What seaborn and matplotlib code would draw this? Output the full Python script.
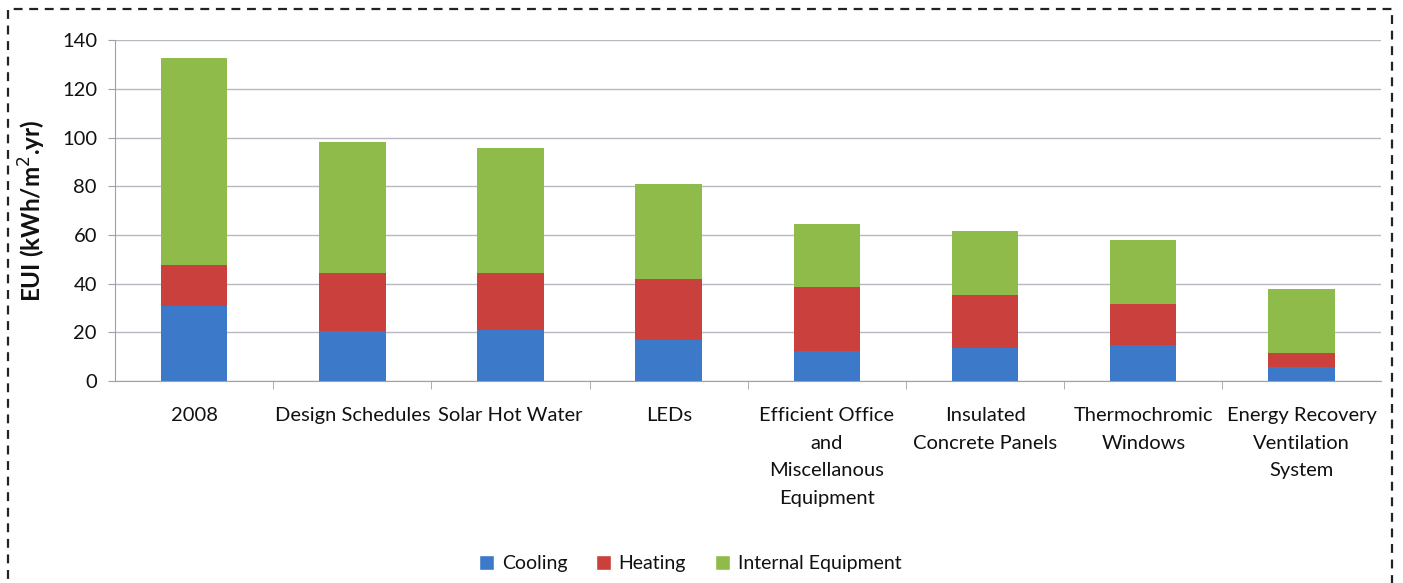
import matplotlib
matplotlib.use("Agg")
import matplotlib.pyplot as plt
import seaborn as sns
import numpy as np
import pandas as pd
from matplotlib.patches import Patch, Rectangle

categories = ["2008", "Design Schedules", "Solar Hot Water", "LEDs",
              "Efficient Office\nand\nMiscellanous\nEquipment",
              "Insulated\nConcrete Panels", "Thermochromic\nWindows",
              "Energy Recovery\nVentilation\nSystem"]
cooling = [31.0, 20.7, 21.0, 16.8, 12.4, 13.5, 14.6, 5.9]
heating = [16.5, 23.5, 23.2, 25.2, 26.1, 21.9, 17.0, 5.5]
equipment = [85.0, 54.0, 51.7, 38.9, 26.2, 26.3, 26.3, 26.2]

series = ["Cooling", "Heating", "Internal Equipment"]
colors = ["#3c79c8", "#c9403c", "#8fbb4b"]

df = pd.DataFrame({"cat": categories, "Cooling": cooling,
                   "Heating": heating, "Internal Equipment": equipment})
df["c1"] = df["Cooling"]
df["c2"] = df["c1"] + df["Heating"]
df["c3"] = df["c2"] + df["Internal Equipment"]

sns.set_style("white")
plt.rcParams["font.family"] = ["Lato", "DejaVu Sans"]

fig = plt.figure(figsize=(14.03, 5.83), dpi=100)
ax = fig.add_axes([0.082, 0.3465, 0.902, 0.5845])

# stack by drawing cumulative totals, largest first
for col, c in zip(["c3", "c2", "c1"], colors[::-1]):
    sns.barplot(data=df, x="cat", y=col, color=c, width=0.42, ax=ax,
                order=categories, saturation=1, linewidth=0)

ax.set_xlim(-0.5, len(categories) - 0.5)
ax.set_ylim(0, 140)
ax.set_yticks(np.arange(0, 141, 20))
ax.yaxis.grid(True, color="#b8b8c0", linewidth=1)
ax.set_axisbelow(True)
for s in ["top", "right"]:
    ax.spines[s].set_visible(False)
ax.spines["left"].set_color("#a0a0a8")
ax.spines["bottom"].set_color("#a0a0a8")

ax.tick_params(axis="y", labelsize=14.5, length=5, color="#a0a0a8", left=True,
               labelcolor="#111111", pad=8)
ax.set_xticks(np.arange(len(categories)))
ax.set_xticklabels(categories, linespacing=1.75)
ax.tick_params(axis="x", which="major", length=0, labelsize=14.5, pad=19,
               labelcolor="#111111")
ax.set_xticks(np.arange(len(categories) - 1) + 0.5, minor=True)
ax.tick_params(axis="x", which="minor", length=6, color="#a0a0a8",
               bottom=True, direction="out")

ax.set_xlabel("")
ax.set_ylabel("EUI (kWh/m$^2$.yr)", fontsize=17.5, fontweight="bold",
              labelpad=10, color="#111111")

handles = [Patch(facecolor=c, label=s) for s, c in zip(series, colors)]
fig.legend(handles=handles, loc="center", bbox_to_anchor=(0.492, 0.033), ncol=3,
           frameon=False, fontsize=14, handlelength=0.75, handleheight=0.75,
           handletextpad=0.4, columnspacing=1.5, labelcolor="#111111")

fig.patches.append(Rectangle((8 / 1403, -0.05), 1384 / 1403, 1.035,
                             transform=fig.transFigure, fill=False,
                             edgecolor="#222222", linewidth=1.6,
                             linestyle=(0, (4, 3))))

fig.savefig("out.png", dpi=100)
